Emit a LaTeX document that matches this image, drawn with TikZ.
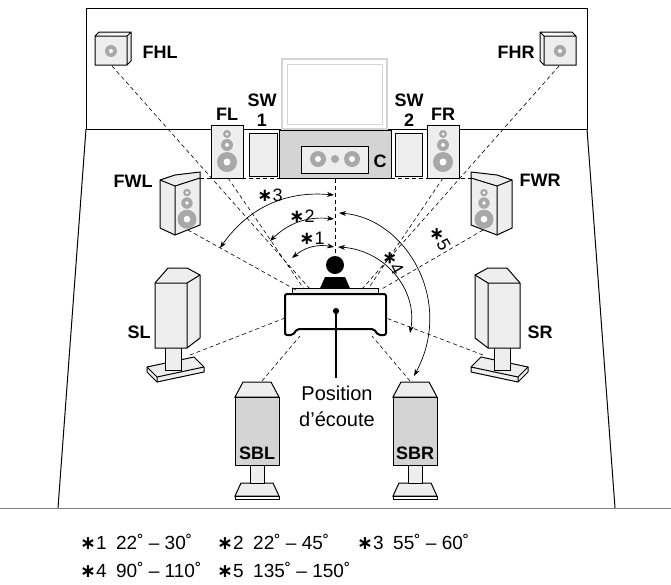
\documentclass[tikz,border=0pt]{standalone}
\usepackage{fontspec}
\setmainfont{Liberation Sans}
\newfontfamily\symfont{DejaVu Sans}
\usetikzlibrary{arrows.meta}
\definecolor{SpkFill}{HTML}{EEEEEE}
\definecolor{SpkGray}{HTML}{A8A8A8}
\definecolor{StandGray}{HTML}{D4D4D4}
\newcommand{\astr}{{\symfont\bfseries ∗}}
\tikzset{
  lbl/.style={font=\fontsize{18}{18}\selectfont\bfseries, inner sep=0pt},
  beam/.style={line width=0.6pt, dash pattern=on 4pt off 3pt},
  box/.style={draw, line width=1pt, fill=SpkFill},
  angle/.style={{Stealth[length=7pt,width=5pt]}-{Stealth[length=7pt,width=5pt]}, line width=0.7pt},
  star/.style={font=\fontsize{18}{18}\selectfont, inner sep=0pt}
}
\newcommand{\drvs}[3]{% tall speaker drivers: x, top y, scale
  \fill[SpkGray] (#1,#2+8*#3) circle (4*#3) (#1,#2+19*#3) circle (6*#3) (#1,#2+36*#3) circle (10*#3);
  \fill[white] (#1,#2+8*#3) circle (1.5*#3) (#1,#2+19*#3) circle (2*#3) (#1,#2+36*#3) circle (3.5*#3);}
\begin{document}
\begin{tikzpicture}[x=1pt,y=-1pt]
\useasboundingbox (0,0) rectangle (671,584);
% room
\draw[line width=1pt] (86,129) -- (86,8) -- (587,8) -- (587,129) -- cycle;
\draw[line width=1pt] (86,129) -- (58,508) (587,129) -- (615,508);
\draw[gray, line width=1pt] (0,508) -- (671,508);
% TV and stand
\draw[StandGray, line width=1.5pt, fill=white] (282,59) rectangle (387,129);
\draw[StandGray, line width=1pt] (287,64) rectangle (382,124);
\draw[line width=1pt, fill=StandGray] (279,130) rectangle (391,178);
\draw[line width=1pt, fill=SpkFill] (301,146) rectangle (368,173);
\fill[SpkGray] (318,159) circle (8) (335,159) circle (4) (352,159) circle (8);
\fill[white] (318,159) circle (3) (352,159) circle (3);
\node[lbl] (c) at (380,161) {C};
% front speakers
\draw[box] (211,125) rectangle (243,178); \drvs{227}{126}{1}
\draw[box] (427,125) rectangle (459,178); \drvs{443}{126}{1}
\node[lbl] (fl) at (227,114) {FL};
\node[lbl] (fr) at (443,114) {FR};
\draw[box] (249,133) rectangle (277,176);
\draw[box] (395,133) rectangle (422,176);
\node[lbl, align=center] (sw1) at (262,110) {SW\\[2pt]1};
\node[lbl, align=center] (sw2) at (409,110) {SW\\[2pt]2};
% height speakers
\draw[box] (95,36) -- (99,32) -- (131,32) -- (131,61) -- (127,65) -- (95,65) -- cycle (95,36) -- (127,36) -- (131,32) (127,36) -- (127,65);
\fill[SpkGray] (111,51) circle (6); \fill[white] (111,51) circle (2);
\draw[box] (576,36) -- (572,32) -- (540,32) -- (540,61) -- (544,65) -- (576,65) -- cycle (576,36) -- (544,36) -- (540,32) (544,36) -- (544,65);
\fill[SpkGray] (560,51) circle (6); \fill[white] (560,51) circle (2);
\node[lbl] (fhl) at (160,52) {FHL};
\node[lbl] (fhr) at (516,52) {FHR};
% wide speakers
\draw[box] (160,180) -- (175,175) -- (200,172) -- (200,225) -- (175,235) -- (160,228) -- cycle;
\draw[line width=1pt] (160,180) -- (175,186) -- (200,178) (175,186) -- (175,235);
\drvs{187}{185}{0.95}
\draw[box] (512,180) -- (497,175) -- (471,172) -- (471,225) -- (497,235) -- (512,228) -- cycle;
\draw[line width=1pt] (512,180) -- (497,186) -- (471,178) (497,186) -- (497,235);
\drvs{484}{185}{0.95}
\node[lbl] (fwl) at (133,181) {FWL};
\node[lbl] (fwr) at (540,180) {FWR};
% surround speakers
\foreach \sx/\sd in {147/1,528/-1}{
  \draw[box] (\sx,372) -- (\sx+\sd*10,382) -- (\sx+\sd*57,372) -- (\sx+\sd*57,367) -- (\sx+\sd*47,357) -- (\sx,367) -- cycle;
  \draw[line width=1pt] (\sx,367) -- (\sx+\sd*10,377) -- (\sx+\sd*57,367) (\sx+\sd*10,377) -- (\sx+\sd*10,382);
  \draw[box] (\sx+\sd*18,348) -- (\sx+\sd*18,370) -- (\sx+\sd*34,370) -- (\sx+\sd*34,348);
  \draw[box] (\sx+\sd*8,283) -- (\sx+\sd*8,348) -- (\sx+\sd*40,348) -- (\sx+\sd*53,338) -- (\sx+\sd*53,275) -- (\sx+\sd*40,268) -- (\sx+\sd*21,268) -- cycle;
  \draw[line width=1pt] (\sx+\sd*8,283) -- (\sx+\sd*40,283) -- (\sx+\sd*53,275) (\sx+\sd*40,283) -- (\sx+\sd*40,348);
}
\node[lbl] (sl) at (139,332) {SL};
\node[lbl] (sr) at (540,332) {SR};
% surround back speakers
\foreach \bx in {235,393}{
  \draw[box] (\bx+6,483) -- (\bx,496) -- (\bx+44,496) -- (\bx+38,483) -- cycle;
  \draw[line width=1pt] (\bx,496) rectangle (\bx+44,499);
  \draw[box] (\bx+15,465) rectangle (\bx+29,483);
  \draw[line width=1pt, fill=SpkFill] (\bx,397) -- (\bx+8,382) -- (\bx+36,382) -- (\bx+44,397) -- cycle;
  \draw[line width=1pt, fill=StandGray] (\bx,397) rectangle (\bx+44,465);
}
\node[lbl] (sbl) at (257,453) {SBL};
\node[lbl] (sbr) at (415,453) {SBR};
% listener
\fill (335,265) circle (9);
\fill (325,277) -- (345,277) -- (353,295) -- (317,295) -- cycle;
\draw[line width=1pt, fill=SpkFill] (292,288) rectangle (378,293);
\draw[line width=2pt, fill=white, rounded corners=2pt] (285,294) -- (386,294) -- (386,335) -- (378,335) -- (374,329) -- (297,329) -- (293,335) -- (285,335) -- cycle;
\node[circle, fill, inner sep=2.2pt] (seat) at (336,311) {};
\coordinate (lp) at (336,378);
\draw[line width=1.3pt] (seat) -- (lp);
\node[font=\fontsize{20}{26}\selectfont, align=center, anchor=north] (pos) at (337,382) {Position\\d’écoute};
% beams
\coordinate (fhlb) at (112,66); \coordinate (fhrb) at (559,66);
\coordinate (flb) at (228,178); \coordinate (frb) at (443,178);
\coordinate (fwlb) at (188,230); \coordinate (fwrb) at (483,230);
\coordinate (slb) at (190,355); \coordinate (srb) at (483,355);
\coordinate (sblb) at (262,381); \coordinate (sbrb) at (410,381);
\coordinate (ctop) at (335,179); \coordinate (cbot) at (335,256);
\draw[beam] (200,178) -- (279,178) (391,178) -- (472,178);
\draw[beam] (ctop) -- (cbot);
\draw[beam] (fhlb) -- (310,289) (flb) -- (304,289) (fhrb) -- (362,289) (frb) -- (368,289);
\draw[beam] (fwlb) -- (296,290) (fwrb) -- (380,290);
\draw[beam] (slb) -- (285,318) (srb) -- (386,318);
\draw[beam] (sblb) -- (300,336) (sbrb) -- (372,336);
% angles
\draw[angle] (292,258) to[bend left=25] (334,247);
\draw[angle] (270,241) to[bend left=25] (334,219);
\draw[angle] (220,248) to[bend left=30] (334,195);
\draw[angle] (338,247) .. controls (385,250) and (418,290) .. (410,333);
\draw[angle] (339,213) .. controls (405,218) and (455,300) .. (414,376);
\node[star] (s1) at (312,238) {\astr1};
\node[star] (s2) at (302,216) {\astr2};
\node[star] (s3) at (270,195) {\astr3};
\node[star, rotate=-60] (s4) at (393,262) {\astr4};
\node[star, rotate=-60] (s5) at (440,238) {\astr5};
% notes
\tikzset{note/.style={font=\fontsize{19}{19}\selectfont, anchor=west, inner sep=0pt}}
\node[note] (n1) at (80,542) {\astr1\enspace 22˚ – 30˚};
\node[note] (n2) at (217,542) {\astr2\enspace 22˚ – 45˚};
\node[note] (n3) at (357,542) {\astr3\enspace 55˚ – 60˚};
\node[note] (n4) at (80,570) {\astr4\enspace 90˚ – 110˚};
\node[note] (n5) at (217,570) {\astr5\enspace 135˚ – 150˚};
\end{tikzpicture}
\end{document}
